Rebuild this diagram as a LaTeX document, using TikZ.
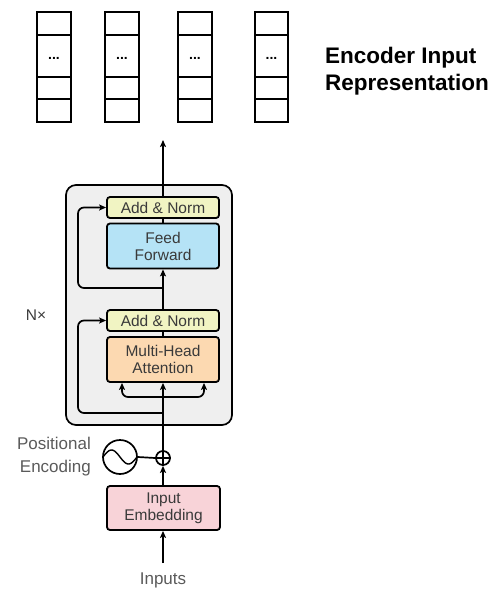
\documentclass[tikz,border=0pt]{standalone}
\usepackage{fontspec}
\setmainfont{Liberation Sans}
\usetikzlibrary{arrows.meta}
\definecolor{encbg}{HTML}{EFEFEF}
\definecolor{normc}{HTML}{F1F4C3}
\definecolor{ffc}{HTML}{B5E3F6}
\definecolor{mhac}{HTML}{FCD9B1}
\definecolor{embc}{HTML}{F8D3D8}
\definecolor{txtc}{HTML}{3A3A3A}
\definecolor{lblc}{HTML}{5A5A5A}
\tikzset{
  blk/.style={draw, line width=1.8pt, rounded corners=3pt, minimum width=112pt,
    inner sep=0pt, align=center, text=txtc,
    font=\fontsize{15.5}{17}\selectfont},
  normblk/.style={blk, fill=normc, minimum height=21pt},
  bigblk/.style={blk, minimum height=45pt},
  cell/.style={draw, line width=2pt, fill=white},
  arr/.style={line width=1.7pt, -{Stealth[length=7pt,width=6pt,inset=1.5pt]}},
  wire/.style={line width=1.7pt, rounded corners=6pt},
  lbl/.style={text=lblc, font=\fontsize{17}{23}\selectfont, inner sep=0pt}
}
\begin{document}
\begin{tikzpicture}[x=1pt,y=-1pt]
\useasboundingbox (0,0) rectangle (491,590);

% output vectors
\foreach \xl/\xr in {37/71,105/139,178/212,255/288}{
  \draw[cell] (\xl,12) rectangle (\xr,122);
  \draw[line width=2pt] (\xl,35) -- (\xr,35) (\xl,77) -- (\xr,77) (\xl,99) -- (\xr,99);
  \node[anchor=base, inner sep=0pt, font=\bfseries\fontsize{14}{14}\selectfont]
    at ({(\xl+\xr)/2},59) {...};
}
\node[anchor=north west, align=left, inner sep=0pt,
  font=\bfseries\fontsize{22.5}{27}\selectfont] (title) at (325,47)
  {Encoder Input\\Representation};

% encoder block
\node[draw, line width=1.7pt, rounded corners=10pt, fill=encbg,
  minimum width=166pt, minimum height=240pt, inner sep=0pt] (enc) at (149,305) {};
\node[lbl, text=txtc, font=\fontsize{15.5}{15.5}\selectfont] (nx) at (36,315) {N×};

\node[normblk] (an2) at (163,207.5) {Add \& Norm};
\node[bigblk, fill=ffc] (ff) at (163,246) {Feed\\Forward};
\node[normblk] (an1) at (163,320.5) {Add \& Norm};
\node[bigblk, fill=mhac] (mha) at (163,359.5) {Multi-Head\\Attention};

\node[blk, fill=embc, minimum width=113pt, minimum height=44pt] (emb) at (163.5,508) {Input\\Embedding};

% positional encoding
\node[draw, circle, line width=1.7pt, minimum size=14pt, inner sep=0pt] (plus) at (163,458) {};
\draw[line width=1.4pt] (plus.north) -- (plus.south) (plus.west) -- (plus.east);
\node[draw, circle, line width=1.7pt, minimum size=34pt, inner sep=0pt] (pe) at (120,457) {};
\draw[line width=1.4pt] plot[domain=-1:1, smooth, samples=30] ({120+17*\x},{457+7*sin(180*\x)});
\draw[line width=1.7pt] (pe.east) -- (plus.west);
\node[lbl, anchor=east, align=right] (pelbl) at (91,457) {Positional\\Encoding};

\node[lbl] (inp) at (163,580) {Inputs};
\coordinate (inpTop) at (163,563);

% main data path
\draw[arr] (inpTop) -- (emb.south -| inpTop);
\draw[arr] (emb.north -| plus) -- (plus.south);
\draw[arr] (plus.north) -- (mha.south -| plus);
\draw[line width=1.7pt] (mha.north -| plus) -- (an1.south -| plus);
\draw[arr] (an1.north -| plus) -- (ff.south -| plus);
\draw[line width=1.7pt] (ff.north -| plus) -- (an2.south -| plus);
\coordinate (outTip) at (163,140);
\draw[arr] (an2.north -| plus) -- (outTip);

% attention input fork
\coordinate (fork) at (163,397);
\draw[wire, arr] (fork) -- (122,397) -- (mha.south -| 122,0);
\draw[wire, arr] (fork) -- (204,397) -- (mha.south -| 204,0);

% residual connections
\draw[wire, arr] (163,413) -- (78,413) -- (78,320.5) -- (an1.west);
\draw[wire, arr] (163,288) -- (78,288) -- (78,207.5) -- (an2.west);
\end{tikzpicture}
\end{document}
